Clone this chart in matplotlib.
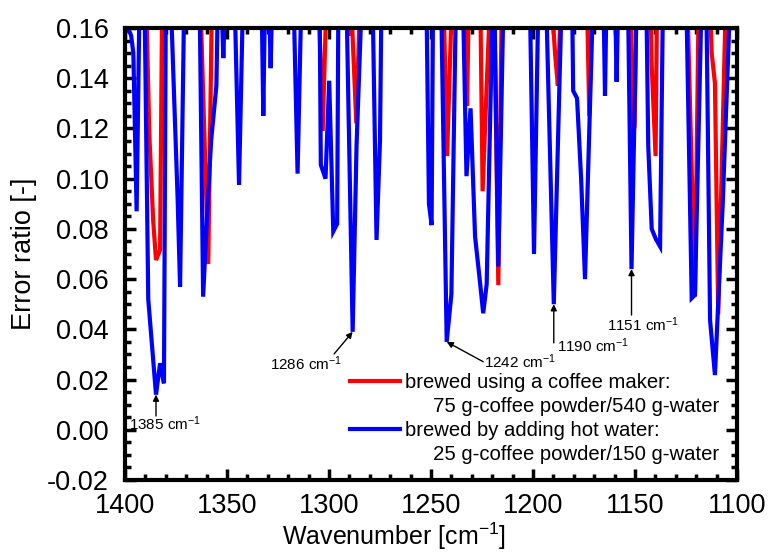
import matplotlib
matplotlib.use("Agg")
import matplotlib.pyplot as plt
from matplotlib.lines import Line2D
from matplotlib.ticker import MultipleLocator, FormatStrFormatter

plt.rcParams['font.family'] = ['Liberation Sans', 'DejaVu Sans']
plt.rcParams['mathtext.fontset'] = 'custom'
plt.rcParams['mathtext.rm'] = 'Liberation Sans'
plt.rcParams['mathtext.it'] = 'Liberation Sans:italic'
plt.rcParams['axes.unicode_minus'] = False

# values above the top of the axis (0.16) are clipped in the original; 0.17 stands for "off scale"
OFF = 0.17

# brewed by adding hot water (blue)
blue_wn = [1400.0, 1398.5, 1397.0, 1395.9, 1394.3, 1392.9, 1390.4, 1388.6, 1384.8, 1382.8,
           1380.9, 1380.0, 1377.5, 1374.2, 1373.0, 1371.0, 1363.4, 1361.7, 1359.8, 1357.8,
           1355.2, 1354.5, 1352.6, 1351.8, 1351.0, 1346.2, 1344.1, 1342.2, 1333.0, 1332.2,
           1331.4, 1329.3, 1328.6, 1327.9, 1317.3, 1315.4, 1313.6, 1304.6, 1304.0, 1301.7,
           1299.9, 1297.9, 1296.0, 1295.4, 1291.4, 1288.4, 1286.5, 1284.0, 1278.6, 1276.7,
           1275.0, 1274.3, 1252.2, 1251.0, 1249.7, 1249.0, 1245.0, 1242.3, 1240.0, 1237.8,
           1234.3, 1232.6, 1230.6, 1228.4, 1226.4, 1224.4, 1222.7, 1219.8, 1218.9, 1217.0,
           1214.5, 1201.5, 1199.5, 1197.4, 1193.5, 1189.8, 1186.0, 1180.8, 1180.3, 1178.4,
           1176.4, 1174.5, 1170.6, 1165.4, 1164.7, 1164.0, 1159.7, 1159.0, 1158.3, 1153.4,
           1151.7, 1149.2, 1144.4, 1143.5, 1141.8, 1139.8, 1137.7, 1136.3, 1124.8, 1122.2,
           1120.6, 1117.4, 1115.0, 1113.2, 1110.8, 1107.0, 1103.4, 1100.0]
blue_val = [0.158, 0.160, 0.157, 0.150, 0.087, OFF, OFF, 0.052, 0.014, 0.0265,
            0.0185, OFF, OFF, 0.092, 0.057, OFF, OFF, 0.053, 0.085, 0.115,
            0.137, OFF, OFF, 0.148, OFF, OFF, 0.0975, OFF, OFF, 0.125,
            OFF, OFF, 0.144, OFF, OFF, 0.102, OFF, OFF, 0.1055, 0.100,
            0.139, 0.079, 0.082, OFF, OFF, 0.039, 0.113, OFF, OFF, 0.0756,
            0.115, OFF, OFF, 0.090, 0.0815, OFF, OFF, 0.035, 0.054, OFF,
            OFF, 0.101, 0.128, 0.077, 0.062, 0.0464, 0.058, OFF, OFF, 0.065,
            OFF, OFF, 0.070, OFF, OFF, 0.050, OFF, OFF, 0.135, 0.132,
            0.100, 0.060, OFF, OFF, 0.133, OFF, OFF, 0.1386, OFF, OFF,
            0.064, OFF, OFF, 0.113, 0.080, 0.076, 0.073, OFF, OFF, 0.0524,
            0.0537, OFF, OFF, 0.0437, 0.0218, 0.090, OFF, OFF]

# brewed using a coffee maker (red)
red_wn = [1400.0, 1389.6, 1388.1, 1386.2, 1384.8, 1382.8, 1381.8, 1363.0, 1359.2, 1357.4,
          1305.0, 1303.1, 1301.3, 1291.0, 1289.8, 1288.6, 1286.6, 1284.8, 1243.8, 1242.1,
          1239.8, 1233.2, 1232.3, 1231.5, 1225.8, 1224.7, 1221.1, 1219.0, 1217.0, 1215.3,
          1190.8, 1189.2, 1187.8, 1186.3, 1173.5, 1172.4, 1171.2, 1152.0, 1151.5, 1150.2,
          1149.3, 1142.3, 1141.9, 1139.9, 1139.2, 1124.3, 1120.6, 1118.8, 1113.3, 1112.4,
          1110.8, 1109.2, 1105.5, 1100.0]
red_val = [OFF, OFF, 0.118, 0.0835, 0.0676, 0.0716, OFF, OFF, 0.066, OFF,
           OFF, 0.119, OFF, OFF, 0.157, 0.160, 0.122, OFF, OFF, 0.109,
           OFF, OFF, 0.129, OFF, OFF, 0.095, OFF, OFF, 0.0576, OFF,
           OFF, 0.150, 0.137, OFF, OFF, 0.125, OFF, OFF, 0.115, 0.121,
           OFF, OFF, 0.147, 0.109, OFF, OFF, 0.053, OFF, OFF, 0.150,
           0.138, 0.046, OFF, OFF]

red_label = ["brewed using a coffee maker:", "     75 g-coffee powder/540 g-water"]
blue_label = ["brewed by adding hot water:", "     25 g-coffee powder/150 g-water"]

# marked peaks: label, peak point, arrow tail, text anchor (left, centre)
peak_labels = ["1385", "1286", "1242", "1190", "1151"]
peak_xy = [(1384.8, 0.014), (1288.4, 0.039), (1242.3, 0.035), (1189.8, 0.050), (1151.7, 0.064)]
peak_tail = [(1384.8, 0.0055), (1297.5, 0.0302), (1224.4, 0.0271), (1189.8, 0.0346), (1151.7, 0.0457)]
peak_text = [(1398.0, 0.0023), (1328.9, 0.0262), (1224.2, 0.0271), (1188.4, 0.0334), (1163.9, 0.0417)]

fig = plt.figure(figsize=(7.73, 5.52), dpi=100)
ax = fig.add_axes([0.1617, 0.1304, 0.7917, 0.8189])

line_r, = ax.plot(red_wn, red_val, color="#ff0000", lw=3.0, solid_joinstyle="miter")
line_b, = ax.plot(blue_wn, blue_val, color="#0000ff", lw=3.0, solid_joinstyle="miter")

for lab, xy, tail, txt in zip(peak_labels, peak_xy, peak_tail, peak_text):
    ax.annotate("", xy=xy, xytext=tail,
                arrowprops=dict(arrowstyle="-|>", color="black", lw=1.0,
                                mutation_scale=9, shrinkA=0, shrinkB=0))
    ax.text(txt[0], txt[1], lab + " cm$^{-1}$", fontsize=11, ha="left", va="center")

blank = Line2D([], [], color="none")
ax.legend([line_r, blank, line_b, blank],
          [red_label[0], red_label[1], blue_label[0], blue_label[1]],
          loc="upper left", bbox_to_anchor=(0.368, 0.236), frameon=False,
          fontsize=14.6, handlelength=2.45, handletextpad=0.25, labelspacing=0.24,
          borderpad=0, borderaxespad=0)

ax.set_xlim(1400, 1100)
ax.set_ylim(-0.02, 0.16)
ax.xaxis.set_major_locator(MultipleLocator(50))
ax.xaxis.set_minor_locator(MultipleLocator(10))
ax.yaxis.set_major_locator(MultipleLocator(0.02))
ax.yaxis.set_minor_locator(MultipleLocator(0.005))
ax.yaxis.set_major_formatter(FormatStrFormatter("%.2f"))

ax.tick_params(which="both", direction="in", top=True, right=True, width=2.5,
               labelsize=19.5)
ax.tick_params(which="major", length=8)
ax.tick_params(which="minor", length=4.5)
ax.tick_params(axis="x", which="major", pad=9.5)
ax.tick_params(axis="y", which="major", pad=11.5)
for sp in ax.spines.values():
    sp.set_linewidth(3)

ax.set_xlabel("Wavenumber [cm$^{-1}$]", fontsize=18)
ax.xaxis.set_label_coords(0.44, -0.089, transform=ax.transAxes)
ax.xaxis.label.set_va("top")
ax.set_ylabel("Error ratio [-]", fontsize=19.5, labelpad=7)

fig.savefig("out.png", dpi=100)
